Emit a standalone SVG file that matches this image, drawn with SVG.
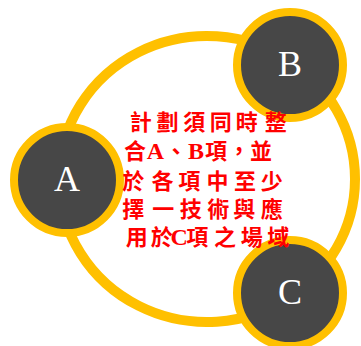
<svg xmlns="http://www.w3.org/2000/svg" width="361" height="346" viewBox="0 0 361 346">
<style>
.ring{fill:none;stroke:#FFC000;stroke-width:10}
.node circle{fill:#474747;stroke:#FFC000;stroke-width:8}
.node text{fill:#FFFFFF;font-family:"Liberation Serif",serif;font-size:36px;text-anchor:middle}
.note{fill:#FF0000;font-family:"Noto Sans CJK TC","Liberation Serif",sans-serif;font-size:22px;font-weight:bold;text-anchor:middle}
.lat{font-family:"Liberation Serif",serif;font-size:24px}
</style>
<rect width="361" height="346" fill="#FFFFFF"/>
<g id="connectors">
<path class="ring" d="M59,179 A148,143 0 0 1 292.1,62"/>
<path class="ring" d="M292.1,62 A148,143 0 0 1 292.1,296"/>
<path class="ring" d="M292.1,296 A148,143 0 0 1 59,179"/>
</g>
<g id="node-A" class="node"><circle cx="67" cy="180" r="53"/><text x="67" y="191">A</text></g>
<g id="node-B" class="node"><circle cx="290" cy="65" r="53"/><text x="290" y="76">B</text></g>
<g id="node-C" class="node"><circle cx="290" cy="293" r="53"/><text x="290" y="304">C</text></g>
<g id="label">
<text class="note" y="130" x="140.8 167.5 194.2 220.8 246.7 275.8">計劃須同時整</text>
<text class="note" y="159"><tspan x="135">合</tspan><tspan class="lat" x="155.5">A</tspan><tspan x="176">、</tspan><tspan class="lat" x="196">B</tspan><tspan x="216">項</tspan><tspan x="239">，</tspan><tspan x="261">並</tspan></text>
<text class="note" y="188.5" x="133.3 162.5 189.2 217.5 245 271.7">於各項中至少</text>
<text class="note" y="217" x="133.3 163.3 190.8 218.3 244.2 271.7">擇一技術與應</text>
<text class="note" y="245"><tspan x="136.7">用</tspan><tspan x="161.7">於</tspan><tspan class="lat" x="179.2">C</tspan><tspan x="197.2">項</tspan><tspan x="225">之</tspan><tspan x="251.7">場</tspan><tspan x="278.3">域</tspan></text>
</g>
</svg>
